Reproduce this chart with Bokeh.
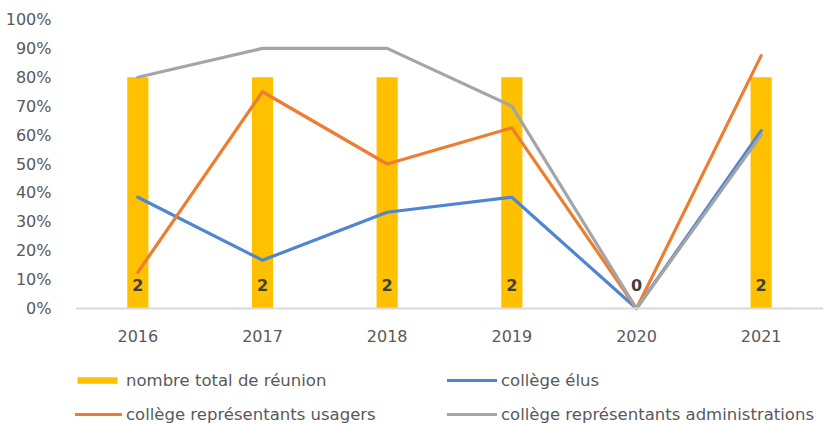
from bokeh.plotting import figure
from bokeh.models import Range1d, FactorRange, FixedTicker, NumeralTickFormatter, Legend, LegendItem, ColumnDataSource
from bokeh.core.properties import value
from bokeh.embed import file_html
from bokeh.resources import INLINE

years = ["2016", "2017", "2018", "2019", "2020", "2021"]
nb_reunions = [2, 2, 2, 2, 0, 2]
college_elus = [0.385, 0.167, 0.333, 0.385, 0.0, 0.615]
college_usagers = [0.125, 0.75, 0.50, 0.625, 0.0, 0.875]
college_admin = [0.80, 0.90, 0.90, 0.70, 0.0, 0.60]
y_ticks = [0, 0.1, 0.2, 0.3, 0.4, 0.5, 0.6, 0.7, 0.8, 0.9, 1.0]

FONT = "DejaVu Sans"
GREY_TXT = "#595959"

# frame spans the whole height below the top border; the lower part hosts the legend
H, TOP, AXIS_PX = 424, 19, 308          # page height, frame top, pixel row of 0 %
below_px = H - AXIS_PX
plot_px = AXIS_PX - TOP
y_start = -below_px / plot_px
count_max = 2.5

p = figure(x_range=FactorRange(*years, range_padding=0),
           y_range=Range1d(y_start, 1.0),
           width=823, height=H,
           min_border_left=75, min_border_top=TOP, min_border_right=0, min_border_bottom=0,
           output_backend="svg", toolbar_location=None)
p.extra_y_ranges = {"count": Range1d(y_start * count_max, count_max)}
p.outline_line_color = None
p.xgrid.grid_line_color = None
p.ygrid.grid_line_color = None

src = ColumnDataSource(dict(x=years, n=nb_reunions, lbl=[str(v) for v in nb_reunions],
                            ly=[0.08] * len(years),
                            e=college_elus, u=college_usagers, a=college_admin))

bars = p.vbar(x="x", top="n", bottom=0, width=0.17, source=src, y_range_name="count",
              fill_color="#FFC000", line_color=None)
l_e = p.line("x", "e", source=src, line_color="#4F86CF", line_width=3.2,
             line_join="round", line_cap="round")
l_u = p.line("x", "u", source=src, line_color="#ED7D31", line_width=3.2,
             line_join="round", line_cap="round")
l_a = p.line("x", "a", source=src, line_color="#A5A5A5", line_width=3.2,
             line_join="round", line_cap="round")
p.text("x", "ly", text="lbl", source=src, text_align="center", text_baseline="middle",
       text_font=value(FONT), text_font_style="bold", text_font_size="16px",
       text_color="#404040")

# axes
p.xaxis.fixed_location = 0
p.xaxis.axis_line_color = "#D9D9D9"
p.xaxis.axis_line_width = 2
p.xaxis.major_tick_line_color = None
p.xaxis.minor_tick_line_color = None
p.xaxis.major_label_standoff = 15
p.xaxis.major_label_text_font = FONT
p.xaxis.major_label_text_font_size = "16px"
p.xaxis.major_label_text_color = GREY_TXT

p.yaxis.axis_line_color = None
p.yaxis.major_tick_line_color = None
p.yaxis.minor_tick_line_color = None
p.yaxis.ticker = FixedTicker(ticks=y_ticks)
p.yaxis.formatter = NumeralTickFormatter(format="0%")
p.yaxis.major_label_standoff = 18
p.yaxis.major_label_text_font = FONT
p.yaxis.major_label_text_font_size = "16px"
p.yaxis.major_label_text_color = GREY_TXT


def make_legend(items, loc):
    lg = Legend(items=items, location=loc, orientation="vertical")
    lg.glyph_width = 50
    lg.glyph_height = 8
    lg.label_standoff = 4
    lg.label_text_font = FONT
    lg.label_text_font_size = "16.5px"
    lg.label_text_color = GREY_TXT
    lg.label_height = 20
    lg.spacing = 14
    lg.padding = 0
    lg.margin = 0
    lg.border_line_color = None
    lg.background_fill_alpha = 0
    return lg


leg1 = make_legend([
    LegendItem(label="nombre total de réunion", renderers=[bars]),
    LegendItem(label="collège représentants usagers", renderers=[l_u]),
], (-3, 0))
leg2 = make_legend([
    LegendItem(label="collège élus", renderers=[l_e]),
    LegendItem(label="collège représentants administrations", renderers=[l_a]),
], (372, 0))
p.add_layout(leg1, "center")
p.add_layout(leg2, "center")

open("out.html", "w").write(file_html(p, INLINE))
